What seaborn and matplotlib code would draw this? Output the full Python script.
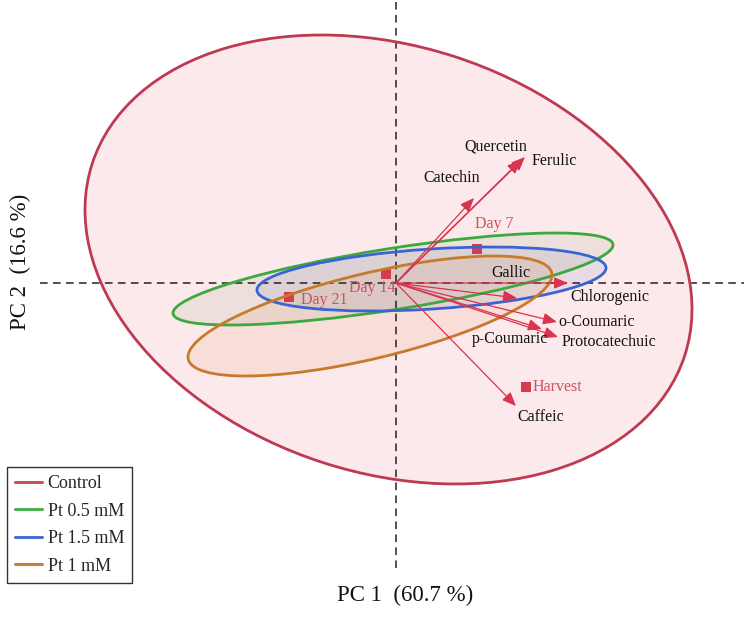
import matplotlib
matplotlib.use("Agg")
import matplotlib.pyplot as plt
from matplotlib.patches import Ellipse
from matplotlib.lines import Line2D
import seaborn as sns
import pandas as pd

# ---------------- data ----------------
groups = ["Control", "Pt 0.5 mM", "Pt 1.5 mM", "Pt 1 mM"]
ell_cx = [-0.075, -0.03, 0.355, -0.26]
ell_cy = [0.235, 0.04, 0.04, -0.33]
ell_a = [3.114, 2.227, 1.749, 1.868]      # semi-major
ell_b = [2.134, 0.306, 0.300, 0.427]      # semi-minor
ell_angle = [-17.9, 8.96, 3.72, 13.4]

variables = ["Quercetin", "Ferulic", "Catechin", "Chlorogenic", "Gallic",
             "o-Coumaric", "p-Coumaric", "Protocatechuic", "Caffeic"]
load_x = [1.25, 1.29, 0.78, 1.72, 1.21, 1.61, 1.46, 1.62, 1.20]
load_y = [1.23, 1.26, 0.85, 0.00, -0.15, -0.39, -0.46, -0.54, -1.23]

samples = ["Day 7", "Day 14", "Day 21", "Harvest"]
score_x = [0.81, -0.10, -1.07, 1.30]
score_y = [0.34, 0.09, -0.14, -1.04]

xlabel = "PC 1  (60.7 %)"
ylabel = "PC 2  (16.6 %)"

# ---------------- layout / style ----------------
var_label_pos = {
    "Quercetin": (1.00, 1.36, "center"),
    "Ferulic": (1.36, 1.22, "left"),
    "Catechin": (0.56, 1.05, "center"),
    "Chlorogenic": (1.74, -0.14, "left"),
    "Gallic": (1.15, 0.10, "center"),
    "o-Coumaric": (1.62, -0.39, "left"),
    "p-Coumaric": (1.52, -0.56, "right"),
    "Protocatechuic": (1.66, -0.59, "left"),
    "Caffeic": (1.45, -1.34, "center"),
}
sample_label_pos = {
    "Day 7": (0.98, 0.59, "center"),
    "Day 14": (-0.01, -0.05, "right"),
    "Day 21": (-0.95, -0.17, "left"),
    "Harvest": (1.37, -1.04, "left"),
}
edge_colors = ["#BE3A50", "#3CA83E", "#3A64D2", "#C67A2A"]
fill_colors = ["#F06478", "#6E8A55", "#4A5FA0", "#D87A3A"]
fill_alpha = [0.14, 0.10, 0.10, 0.10]
legend_colors = ["#C85060", "#4CB050", "#4A70D0", "#C88040"]
arrow_color = "#D8334F"
point_color = "#D93A4E"
label_red = "#D0505E"

sns.set_theme(style="white")
plt.rcParams["font.family"] = ["Liberation Serif", "DejaVu Serif"]

fig = plt.figure(figsize=(7.44, 6.18), dpi=100)
ax = fig.add_axes([0, 0, 1, 1])

# ellipses
for i, g in enumerate(groups):
    ax.add_patch(Ellipse((ell_cx[i], ell_cy[i]), 2 * ell_a[i], 2 * ell_b[i],
                         angle=ell_angle[i], facecolor=fill_colors[i],
                         alpha=fill_alpha[i], edgecolor="none", zorder=1))
for i, g in enumerate(groups):
    ax.add_patch(Ellipse((ell_cx[i], ell_cy[i]), 2 * ell_a[i], 2 * ell_b[i],
                         angle=ell_angle[i], facecolor="none",
                         edgecolor=edge_colors[i], lw=2.0, zorder=4))

# reference lines
ax.plot([0, 0], [2.81, -2.85], ls=(0, (5, 3.5)), color="#222222", lw=1.1, zorder=2)
ax.plot([-3.56, 3.48], [0, 0], ls=(0, (5, 3.5)), color="#222222", lw=1.1, zorder=2)

# loadings arrows
for v, x, y in zip(variables, load_x, load_y):
    ax.annotate("", xy=(x, y), xytext=(0, 0),
                arrowprops=dict(arrowstyle="-|>,head_length=0.6,head_width=0.25",
                                color=arrow_color, lw=0.9, mutation_scale=14,
                                shrinkA=0, shrinkB=0), zorder=5)
    lx, ly, ha = var_label_pos[v]
    ax.text(lx, ly, v, ha=ha, va="center", fontsize=11.5, color="#111111", zorder=6)

# scores
df = pd.DataFrame({"x": score_x, "y": score_y, "sample": samples})
sns.scatterplot(data=df, x="x", y="y", marker="s", s=45, color=point_color,
                edgecolor="none", ax=ax, zorder=3, legend=False)
for s in samples:
    lx, ly, ha = sample_label_pos[s]
    ax.text(lx, ly, s, ha=ha, va="center", fontsize=11.5, color=label_red, zorder=6)

ax.set_xlim(-3.96, 3.48)
ax.set_ylim(-3.35, 2.83)
ax.set_aspect("equal")
ax.axis("off")

# axis titles
fig.text(405 / 744, 1 - 595 / 618, xlabel, ha="center", va="center", fontsize=16.5, color="#111111")
fig.text(20 / 744, 1 - 262 / 618, ylabel, ha="center", va="center", rotation=90,
         fontsize=16.5, color="#111111")

# legend
handles = [Line2D([0], [0], color=c, lw=2.2) for c in legend_colors]
leg = fig.legend(handles, groups, loc="upper left",
                 bbox_to_anchor=(7 / 744, 1 - 467 / 618), fontsize=13,
                 frameon=True, fancybox=False, edgecolor="black",
                 handlelength=1.5, handletextpad=0.3, labelspacing=0.58,
                 borderpad=0.45, borderaxespad=0)
leg.get_frame().set_linewidth(1.0)

fig.savefig("out.png", dpi=100)
